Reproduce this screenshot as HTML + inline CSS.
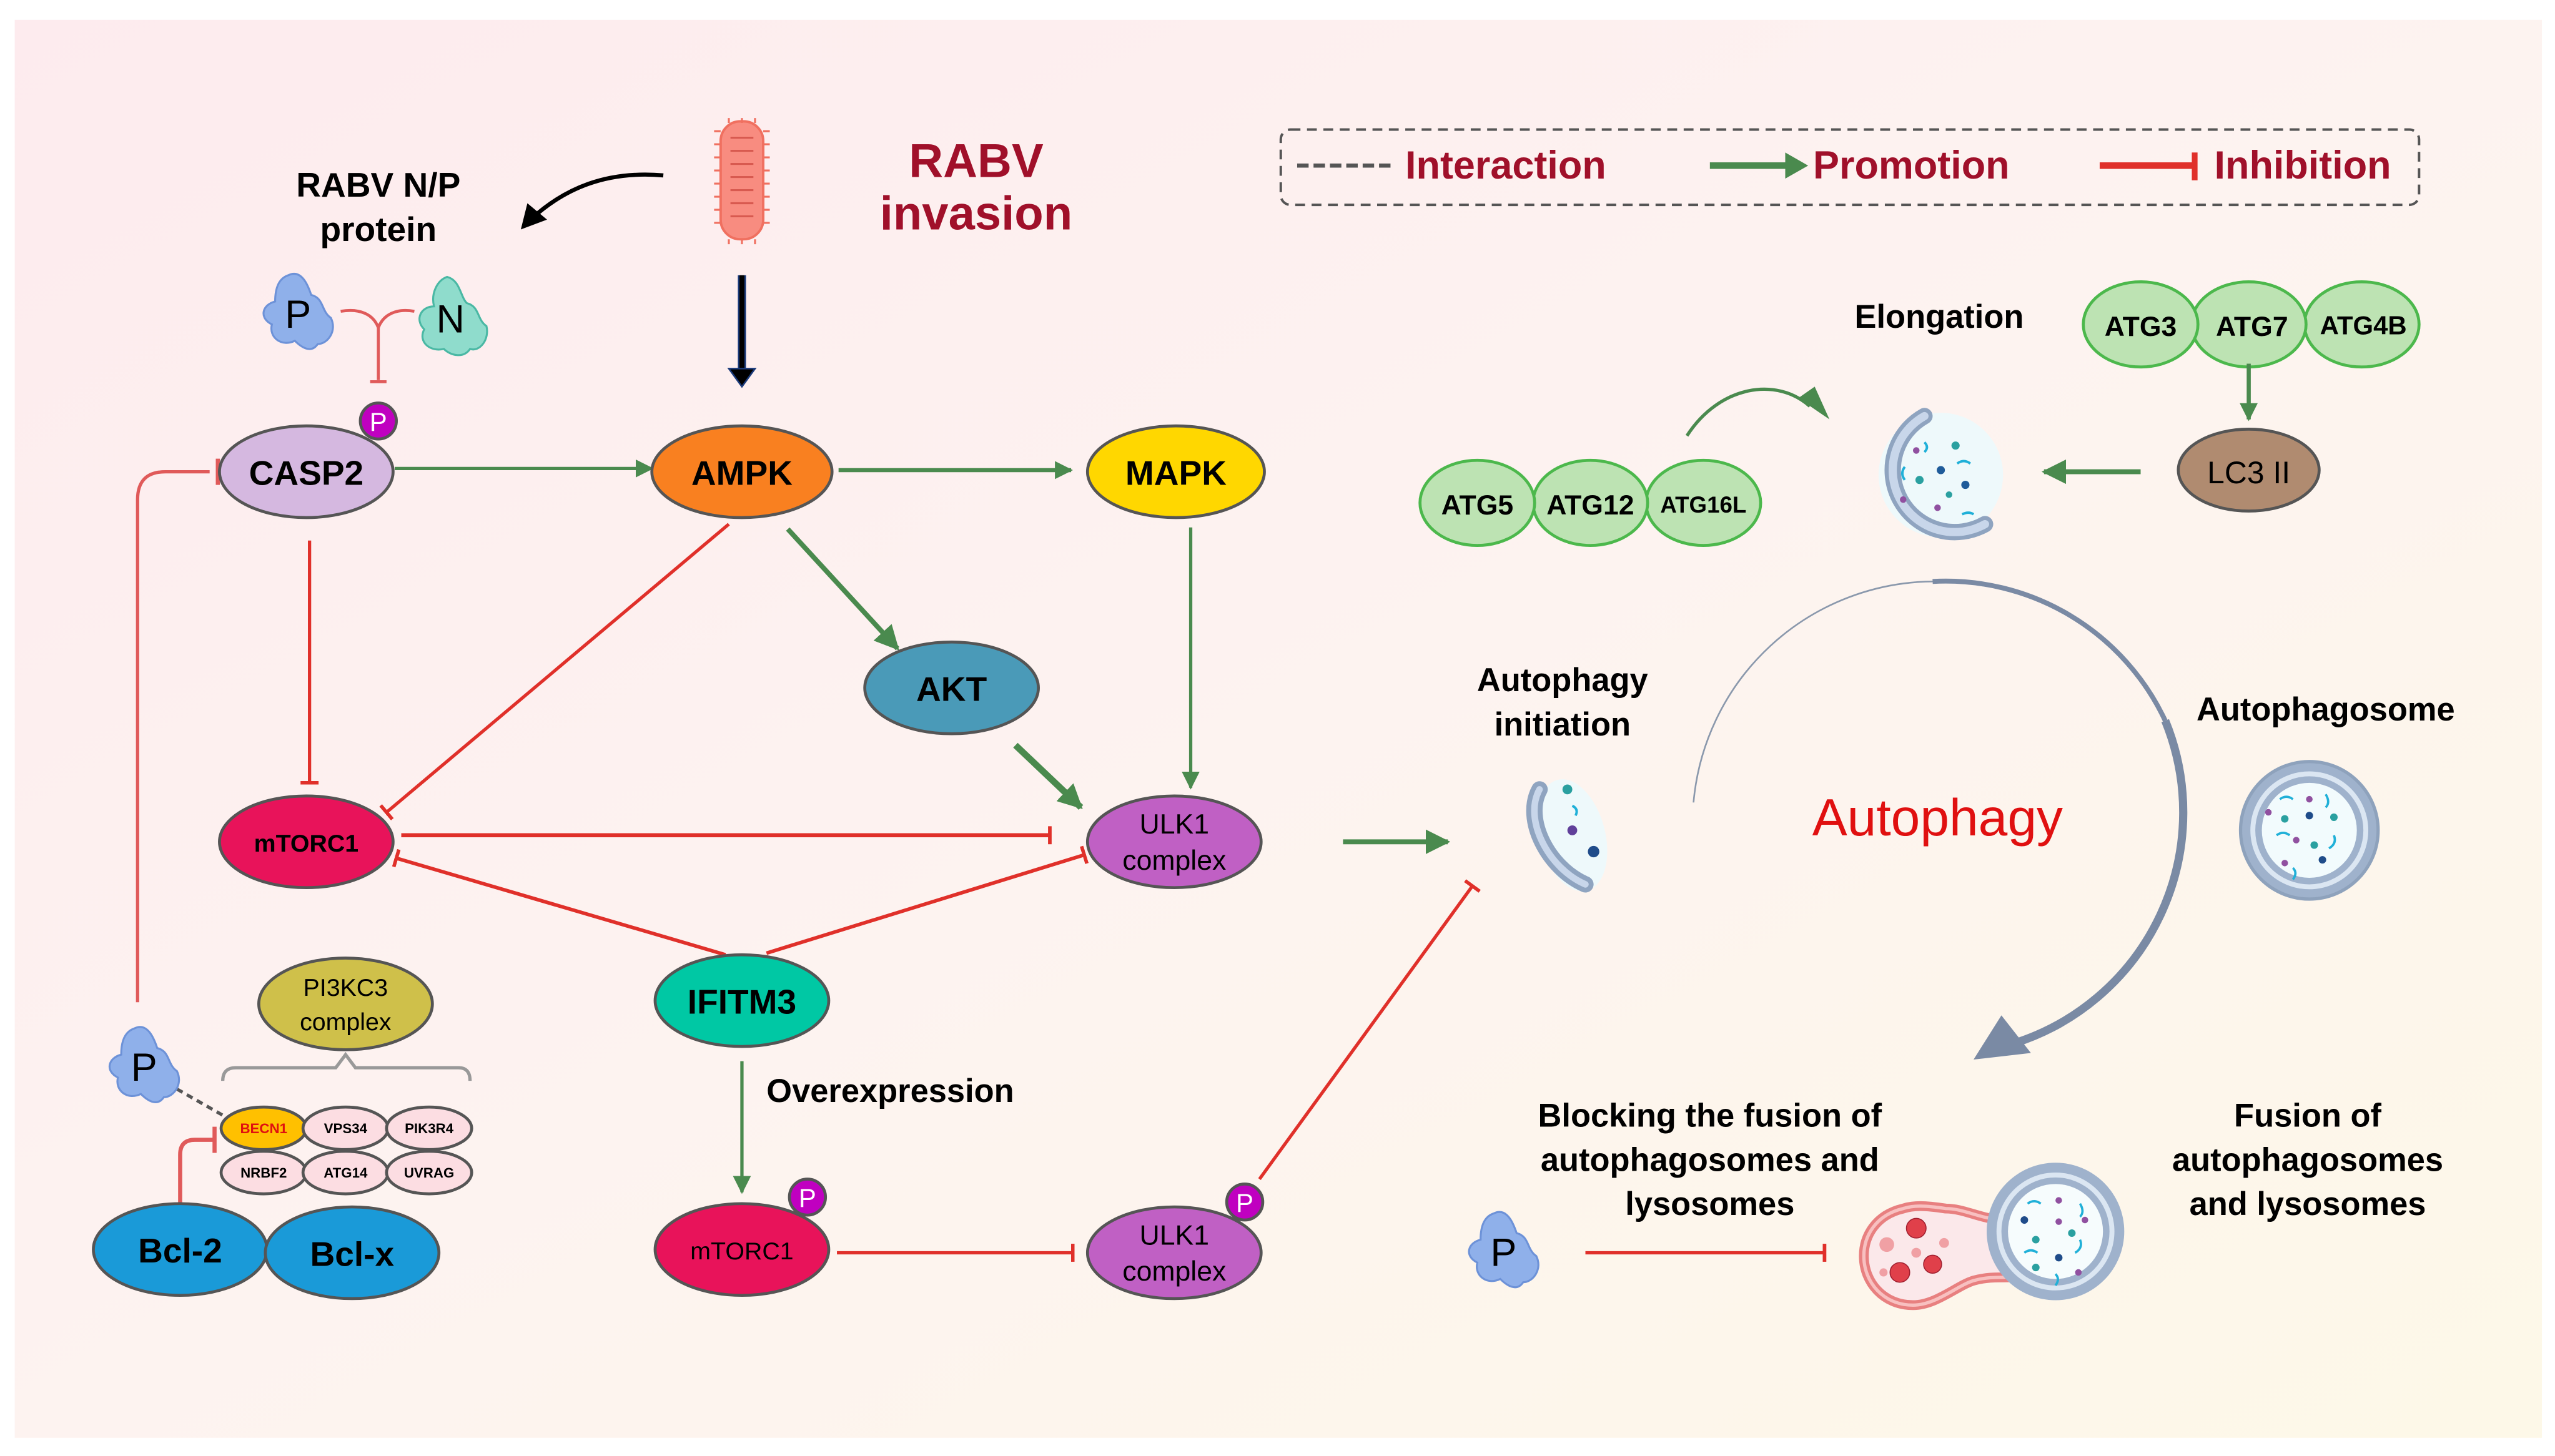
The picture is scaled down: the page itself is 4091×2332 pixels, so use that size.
<!DOCTYPE html>
<html><head><meta charset="utf-8"><style>html,body{margin:0;padding:0;background:#fff}svg{display:block}text{font-family:"Liberation Sans",Arial,sans-serif}</style></head><body>
<svg width="4091" height="2332" viewBox="0 0 1560 889" xmlns="http://www.w3.org/2000/svg">
<defs>
<linearGradient id="bg" x1="0" y1="0" x2="1" y2="1"><stop offset="0" stop-color="#fdebee"/><stop offset="0.5" stop-color="#fdf3f0"/><stop offset="1" stop-color="#fdf8e8"/></linearGradient>
<marker id="ga" viewBox="0 0 10 10" refX="9" refY="5" markerWidth="11" markerHeight="11" markerUnits="userSpaceOnUse" orient="auto"><path d="M0,0L10,5L0,10z" fill="#4a8a4e"/></marker>
<marker id="gb" viewBox="0 0 10 10" refX="9" refY="5" markerWidth="15" markerHeight="15" markerUnits="userSpaceOnUse" orient="auto"><path d="M0,0L10,5L0,10z" fill="#4a8a4e"/></marker>
<marker id="rb" viewBox="0 0 4 20" refX="2" refY="10" markerWidth="2.2" markerHeight="14" markerUnits="userSpaceOnUse" orient="auto"><rect x="0" y="0" width="4" height="20" fill="#e0302a"/></marker>
<g id="blobP"><path d="M-6,-22 C2,-26 6,-16 8,-10 C16,-8 14,0 20,4 C24,12 18,20 12,20 C8,26 2,22 -2,18 C-10,22 -18,16 -16,8 C-24,4 -22,-4 -14,-6 C-14,-14 -12,-20 -6,-22z" fill="#8fb0ea" stroke="#6d92d8" stroke-width="1.2"/></g>
<g id="blobN"><path d="M-2,-24 C6,-22 6,-12 10,-8 C18,-6 16,2 22,6 C24,14 18,22 12,20 C8,26 0,24 -4,20 C-12,22 -20,16 -16,8 C-22,2 -18,-6 -10,-6 C-12,-14 -8,-22 -2,-24z" fill="#8fdccc" stroke="#4ab8a4" stroke-width="1.2"/></g>
</defs>
<rect width="1560" height="889" fill="#fff"/>
<rect x="9" y="12" width="1543" height="866" fill="url(#bg)"/>

<!-- virus -->
<g>
<rect x="440" y="74" width="26" height="72" rx="12" fill="#f88c80" stroke="#f07060" stroke-width="1.5"/>
<g stroke="#f07060" stroke-width="1.2" fill="none">
<path d="M436,80h4M436,88h4M436,96h4M436,104h4M436,112h4M436,120h4M436,128h4M436,136h4M466,80h4M466,88h4M466,96h4M466,104h4M466,112h4M466,120h4M466,128h4M466,136h4M445,72v3M453,72v3M461,72v3M445,146v3M453,146v3M461,146v3"/>
<path d="M446,84h14M446,92h14M446,100h14M446,108h14M446,116h14M446,124h14M446,132h14" stroke="#d85a50"/>
</g>
</g>
<line x1="453" y1="168" x2="453" y2="226" stroke="#1a3a7a" stroke-width="5"/>
<line x1="453" y1="168" x2="453" y2="226" stroke="#000" stroke-width="3"/>
<path d="M445,225L453,236L461,225z" fill="#000" stroke="#1a3a7a" stroke-width="1"/>
<path d="M405,107 C370,104 345,115 325,133" fill="none" stroke="#000" stroke-width="2.5"/>
<path d="M318,140L322,124L334,134z" fill="#000"/>

<text x="231" y="120" font-size="21" font-weight="bold" text-anchor="middle">RABV N/P</text>
<text x="231" y="147" font-size="21" font-weight="bold" text-anchor="middle">protein</text>
<text x="596" y="108" font-size="29" font-weight="bold" fill="#a0102a" text-anchor="middle">RABV</text>
<text x="596" y="140" font-size="29" font-weight="bold" fill="#a0102a" text-anchor="middle">invasion</text>

<use href="#blobP" x="182" y="190"/><text x="182" y="200" font-size="24" text-anchor="middle">P</text>
<use href="#blobN" x="275" y="193"/><text x="275" y="203" font-size="24" text-anchor="middle">N</text>
<path d="M208,190 C220,188 228,192 231,200 C234,192 242,188 253,190 M231,200V232 M226,233h10" fill="none" stroke="#e05a5a" stroke-width="1.8"/>

<!-- Legend -->
<rect x="782" y="79" width="695" height="46" rx="6" fill="none" stroke="#555" stroke-width="1.5" stroke-dasharray="6,4"/>
<line x1="792" y1="101" x2="852" y2="101" stroke="#555" stroke-width="2.5" stroke-dasharray="7,3"/>
<text x="858" y="109" font-size="24" font-weight="bold" fill="#a0102a">Interaction</text>
<line x1="1044" y1="101" x2="1093" y2="101" stroke="#4a8a4e" stroke-width="4"/><path d="M1090,93L1104,101L1090,109z" fill="#4a8a4e"/>
<text x="1107" y="109" font-size="24" font-weight="bold" fill="#a0102a">Promotion</text>
<line x1="1282" y1="101" x2="1340" y2="101" stroke="#e0302a" stroke-width="4"/><line x1="1340" y1="93" x2="1340" y2="110" stroke="#e0302a" stroke-width="3.5"/>
<text x="1352" y="109" font-size="24" font-weight="bold" fill="#a0102a">Inhibition</text>

<!-- edges left -->
<g fill="none" stroke-width="2">
<line x1="241" y1="286" x2="398" y2="286" stroke="#4a8a4e" marker-end="url(#ga)"/>
<line x1="512" y1="287" x2="654" y2="287" stroke="#4a8a4e" stroke-width="2.5" marker-end="url(#ga)"/>
<line x1="189" y1="330" x2="189" y2="478" stroke="#e0302a" marker-end="url(#rb)"/>
<line x1="445" y1="320" x2="236" y2="496" stroke="#e0302a" marker-end="url(#rb)"/>
<line x1="481" y1="323" x2="548" y2="396" stroke="#4a8a4e" stroke-width="3" marker-end="url(#gb)"/>
<line x1="727" y1="322" x2="727" y2="481" stroke="#4a8a4e" marker-end="url(#ga)"/>
<line x1="620" y1="455" x2="660" y2="493" stroke="#4a8a4e" stroke-width="4" marker-end="url(#gb)"/>
<line x1="245" y1="510" x2="641" y2="510" stroke="#e0302a" stroke-width="2.5" marker-end="url(#rb)"/>
<line x1="443" y1="583" x2="242" y2="524" stroke="#e0302a" stroke-width="2.2" marker-end="url(#rb)"/>
<line x1="468" y1="582" x2="662" y2="522" stroke="#e0302a" stroke-width="2.2" marker-end="url(#rb)"/>
<line x1="453" y1="648" x2="453" y2="728" stroke="#4a8a4e" marker-end="url(#ga)"/>
<line x1="511" y1="765" x2="655" y2="765" stroke="#e0302a" marker-end="url(#rb)"/>
<line x1="769" y1="720" x2="899" y2="541" stroke="#e0302a" marker-end="url(#rb)"/>
<line x1="820" y1="514" x2="884" y2="514" stroke="#4a8a4e" stroke-width="3" marker-end="url(#gb)"/>
<path d="M84,612V305 Q84,288 101,288H128" stroke="#e05a5a"/>
<line x1="133" y1="280" x2="133" y2="296" stroke="#e05a5a" stroke-width="2.5"/>
<path d="M110,735V705 Q110,696 119,696H130" stroke="#e05a5a" stroke-width="2.5"/>
<line x1="131" y1="688" x2="131" y2="704" stroke="#e05a5a" stroke-width="2.5"/>
<line x1="108" y1="665" x2="136" y2="681" stroke="#555" stroke-dasharray="4,3"/>
<path d="M136,660 Q136,652 144,652H205L211,644L217,652H280Q287,652 287,660" stroke="#999" stroke-width="2"/>
</g>

<!-- nodes -->
<g stroke="#555" stroke-width="1.8">
<ellipse cx="187" cy="288" rx="53" ry="28" fill="#d5b8e0"/>
<ellipse cx="453" cy="288" rx="55" ry="28" fill="#f98020"/>
<ellipse cx="718" cy="288" rx="54" ry="28" fill="#ffd700"/>
<ellipse cx="581" cy="420" rx="53" ry="28" fill="#4a9ab8"/>
<ellipse cx="187" cy="514" rx="53" ry="28" fill="#e8135a"/>
<ellipse cx="717" cy="514" rx="53" ry="28" fill="#c060c4"/>
<ellipse cx="453" cy="611" rx="53" ry="28" fill="#00c8a4"/>
<ellipse cx="211" cy="613" rx="53" ry="28" fill="#cfc04a"/>
<ellipse cx="453" cy="763" rx="53" ry="28" fill="#e8135a"/>
<ellipse cx="717" cy="765" rx="53" ry="28" fill="#c060c4"/>
<ellipse cx="110" cy="763" rx="53" ry="28" fill="#1a9ad8"/>
<ellipse cx="215" cy="765" rx="53" ry="28" fill="#1a9ad8"/>
<ellipse cx="161" cy="689" rx="26" ry="13" fill="#ffc000"/>
<ellipse cx="211" cy="689" rx="26" ry="13" fill="#fcdde2"/>
<ellipse cx="262" cy="689" rx="26" ry="13" fill="#fcdde2"/>
<ellipse cx="161" cy="716" rx="26" ry="13" fill="#fcdde2"/>
<ellipse cx="211" cy="716" rx="26" ry="13" fill="#fcdde2"/>
<ellipse cx="262" cy="716" rx="26" ry="13" fill="#fcdde2"/>
<circle cx="231" cy="257" r="11" fill="#c000c0"/>
<circle cx="493" cy="731" r="11" fill="#c000c0"/>
<circle cx="760" cy="734" r="11" fill="#c000c0"/>
</g>
<g fill="#fff" font-size="16" text-anchor="middle"><text x="231" y="263">P</text><text x="493" y="737">P</text><text x="760" y="740">P</text></g>
<g font-weight="bold" text-anchor="middle" font-size="21">
<text x="187" y="296">CASP2</text><text x="453" y="296">AMPK</text><text x="718" y="296">MAPK</text><text x="581" y="428">AKT</text>
<text x="453" y="619">IFITM3</text><text x="187" y="520" font-size="15">mTORC1</text>
<text x="110" y="771">Bcl-2</text><text x="215" y="773">Bcl-x</text>
</g>
<g text-anchor="middle" font-size="17">
<text x="717" y="509">ULK1</text><text x="717" y="531">complex</text>
<text x="717" y="760">ULK1</text><text x="717" y="782">complex</text>
<text x="211" y="608" font-size="15">PI3KC3</text><text x="211" y="629" font-size="15">complex</text>
<text x="453" y="769" font-size="15">mTORC1</text>
</g>
<g font-weight="bold" text-anchor="middle" font-size="8.5">
<text x="161" y="692" fill="#e01010">BECN1</text><text x="211" y="692">VPS34</text><text x="262" y="692">PIK3R4</text>
<text x="161" y="719">NRBF2</text><text x="211" y="719">ATG14</text><text x="262" y="719">UVRAG</text>
</g>
<use href="#blobP" x="88" y="650"/><text x="88" y="660" font-size="24" text-anchor="middle">P</text>
<text x="468" y="673" font-size="20" font-weight="bold">Overexpression</text>

<!-- right side -->
<text x="1184" y="200" font-size="20" font-weight="bold" text-anchor="middle">Elongation</text>
<g stroke="#4cb84c" stroke-width="1.8" fill="#bde3b3">
<ellipse cx="1442" cy="198" rx="35" ry="26"/><ellipse cx="1373" cy="198" rx="35" ry="26"/><ellipse cx="1307" cy="198" rx="35" ry="26"/>
<ellipse cx="1040" cy="307" rx="35" ry="26"/><ellipse cx="971" cy="307" rx="35" ry="26"/><ellipse cx="902" cy="307" rx="35" ry="26"/>
</g>
<g font-family="Liberation Serif,serif" font-weight="bold" text-anchor="middle" font-size="17">
<text x="1307" y="205">ATG3</text><text x="1375" y="205">ATG7</text><text x="1443" y="204" font-size="16">ATG4B</text>
<text x="902" y="314">ATG5</text><text x="971" y="314">ATG12</text><text x="1040" y="313" font-size="14">ATG16L</text>
</g>
<line x1="1373" y1="222" x2="1373" y2="256" stroke="#4a8a4e" stroke-width="2.5" marker-end="url(#ga)"/>
<ellipse cx="1373" cy="287" rx="43" ry="25" fill="#b08b70" stroke="#555" stroke-width="1.8"/>
<text x="1373" y="295" font-size="19" text-anchor="middle">LC3 II</text>
<line x1="1307" y1="288" x2="1248" y2="288" stroke="#4a8a4e" stroke-width="3" marker-end="url(#gb)"/>
<path d="M1030,266 C1050,235 1085,230 1105,248" fill="none" stroke="#4a8a4e" stroke-width="2"/>
<path d="M1098,243L1117,256L1108,236z" fill="#4a8a4e"/>

<!-- phagophore -->
<g>
<circle cx="1185" cy="290" r="38" fill="#eef9fb"/>
<path d="M1175,254 A37,37 0 1 0 1212,320" fill="none" stroke="#8fa4c0" stroke-width="10" stroke-linecap="round"/>
<path d="M1175,254 A37,37 0 1 0 1212,320" fill="none" stroke="#c8d6ea" stroke-width="5" stroke-linecap="round"/>
<g fill="#1f5c9a"><circle cx="1185" cy="287" r="2.5"/><circle cx="1200" cy="296" r="2.5"/></g>
<g fill="#2aa0a0"><circle cx="1194" cy="272" r="2.5"/><circle cx="1172" cy="293" r="2.5"/><circle cx="1190" cy="302" r="2"/></g>
<g fill="#9050a0"><circle cx="1170" cy="275" r="2"/><circle cx="1162" cy="305" r="2"/><circle cx="1183" cy="310" r="2"/></g>
<path d="M1175,270q3,3 0,6M1163,285q-3,4 0,8M1195,283q4,-3 8,0M1198,314q4,-2 7,0" stroke="#20b0d8" stroke-width="1.5" fill="none"/>
</g>

<!-- cycle arc -->
<path d="M1034,490 A148,148 0 0 1 1180,355" fill="none" stroke="#8a98ac" stroke-width="1"/>
<path d="M1180,355 A148,148 0 0 1 1322,440" fill="none" stroke="#7a8aa4" stroke-width="3"/>
<path d="M1322,440 A148,148 0 0 1 1230,637" fill="none" stroke="#7a8aa4" stroke-width="5"/>
<path d="M1205,647L1222,620L1240,643z" fill="#7a8aa4"/>
<text x="1183" y="510" font-size="32" fill="#e01010" text-anchor="middle">Autophagy</text>

<text x="954" y="422" font-size="20" font-weight="bold" text-anchor="middle">Autophagy</text>
<text x="954" y="449" font-size="20" font-weight="bold" text-anchor="middle">initiation</text>
<g>
<ellipse cx="960" cy="510" rx="20" ry="35" fill="#eef9fb" transform="rotate(-15 960 510)"/>
<path d="M940,482 C930,500 945,530 968,540" fill="none" stroke="#8fa4c0" stroke-width="10" stroke-linecap="round"/>
<path d="M940,482 C930,500 945,530 968,540" fill="none" stroke="#c8d6ea" stroke-width="4" stroke-linecap="round"/>
<circle cx="957" cy="482" r="3" fill="#2aa0a0"/><circle cx="960" cy="507" r="3" fill="#60409a"/><circle cx="973" cy="520" r="3.5" fill="#1f4c8a"/>
<path d="M960,492q4,2 2,6" stroke="#20b0d8" stroke-width="1.5" fill="none"/>
</g>

<text x="1420" y="440" font-size="20" font-weight="bold" text-anchor="middle">Autophagosome</text>
<g>
<circle cx="1410" cy="507" r="42" fill="#9fb2cc" stroke="#8ea2bc" stroke-width="2"/>
<circle cx="1410" cy="507" r="36" fill="#dbe6f2"/>
<circle cx="1410" cy="507" r="33" fill="#9fb2cc"/>
<circle cx="1410" cy="507" r="29" fill="#f2fbfd"/>
<g fill="#2aa0a0"><circle cx="1395" cy="500" r="2.3"/><circle cx="1425" cy="499" r="2.3"/><circle cx="1413" cy="516" r="2.3"/></g>
<g fill="#1f4c8a"><circle cx="1410" cy="498" r="2.3"/><circle cx="1418" cy="525" r="2.3"/></g>
<g fill="#9050a0"><circle cx="1385" cy="496" r="2"/><circle cx="1410" cy="488" r="2"/><circle cx="1402" cy="513" r="2"/><circle cx="1395" cy="527" r="2"/></g>
<path d="M1392,488q4,-3 8,0M1420,485q3,5 0,8M1390,510q4,-3 8,0M1425,510q2,5 -3,8M1400,530q3,3 0,7" stroke="#20b0d8" stroke-width="1.4" fill="none"/>
</g>

<g font-size="20" font-weight="bold" text-anchor="middle">
<text x="1044" y="688">Blocking the fusion of</text><text x="1044" y="715">autophagosomes and</text><text x="1044" y="742">lysosomes</text>
<text x="1409" y="688">Fusion of</text><text x="1409" y="715">autophagosomes</text><text x="1409" y="742">and lysosomes</text>
</g>
<use href="#blobP" x="918" y="763"/><text x="918" y="773" font-size="24" text-anchor="middle">P</text>
<line x1="968" y1="765" x2="1114" y2="765" stroke="#e0302a" stroke-width="2" marker-end="url(#rb)"/>

<!-- fusion icon -->
<g>
<path d="M1225,745 C1210,745 1200,738 1188,738 C1175,736 1168,736 1162,738 C1145,742 1138,755 1138,767 C1138,783 1150,797 1168,797 C1182,797 1195,785 1205,782 C1212,780 1218,780 1225,780z" fill="#fbe8ea" stroke="#e88080" stroke-width="6"/>
<path d="M1225,745 C1210,745 1200,738 1188,738 C1175,736 1168,736 1162,738 C1145,742 1138,755 1138,767 C1138,783 1150,797 1168,797 C1182,797 1195,785 1205,782 C1212,780 1218,780 1225,780" fill="none" stroke="#f8c0c0" stroke-width="2"/>
<circle cx="1255" cy="752" r="42" fill="#9fb2cc"/>
<circle cx="1255" cy="752" r="36" fill="#dbe6f2"/>
<circle cx="1255" cy="752" r="33" fill="#9fb2cc"/>
<circle cx="1255" cy="752" r="29" fill="#f6fcfd"/>
<g fill="#e0404a" stroke="#a02030" stroke-width="0.6"><circle cx="1170" cy="750" r="6"/><circle cx="1160" cy="777" r="6"/><circle cx="1180" cy="772" r="5.5"/></g>
<g fill="#f0a0a4"><circle cx="1152" cy="760" r="4.5"/><circle cx="1170" cy="765" r="3"/><circle cx="1187" cy="759" r="3"/><circle cx="1150" cy="777" r="2.5"/></g>
<g fill="#2aa0a0"><circle cx="1243" cy="757" r="2.3"/><circle cx="1265" cy="753" r="2.3"/><circle cx="1243" cy="774" r="2.3"/></g>
<g fill="#1f4c8a"><circle cx="1236" cy="745" r="2.3"/><circle cx="1257" cy="768" r="2.3"/></g>
<g fill="#9050a0"><circle cx="1257" cy="733" r="2"/><circle cx="1257" cy="746" r="2"/><circle cx="1273" cy="745" r="2"/><circle cx="1269" cy="777" r="2"/></g>
<path d="M1238,735q4,-3 8,0M1270,735q3,5 0,8M1236,765q4,-3 8,0M1270,757q2,5 -3,8M1255,778q3,3 0,7" stroke="#20b0d8" stroke-width="1.4" fill="none"/>
</g>
</svg>
</body></html>
